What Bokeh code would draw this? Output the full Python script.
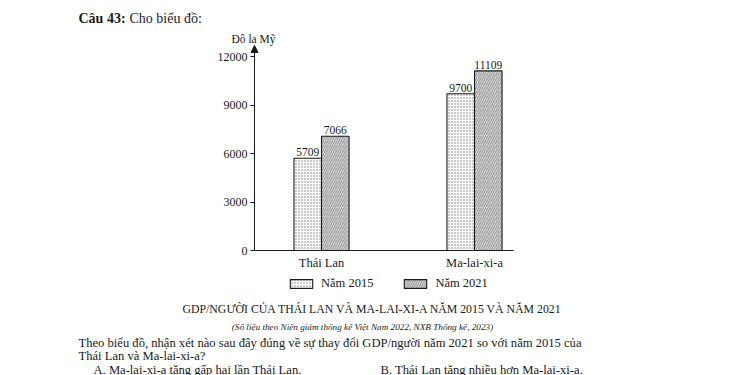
from bokeh.plotting import figure
from bokeh.models import (Range1d, ColumnDataSource, FixedTicker, Label, Legend, LegendItem,
                          Arrow, NormalHead)
from bokeh.core.properties import value
from bokeh.embed import file_html
from bokeh.resources import INLINE

# ---- data ----
countries = ["Thái Lan", "Ma-lai-xi-a"]
gdp_2015 = [5709, 9700]
gdp_2021 = [7066, 11109]
years = ["Năm 2015", "Năm 2021"]
y_ticks = [0, 3000, 6000, 9000, 12000]

SERIF = "Liberation Serif"
INK = "#1a1a1a"
W, H = 750, 375
AX_L, AX_R, Y0_PX = 254, 513, 250      # chart axes placement on the page (pixels)
PX_PER_CAT = 153.0
PX_PER_VAL = 194.0 / 12000
Y_TOP = 12680                          # top of the y axis arrow

xpos = [i + 1 for i in range(len(countries))]
bw = 0.18
src15 = ColumnDataSource(dict(x=[v - bw / 2 for v in xpos], top=gdp_2015, lab=[str(v) for v in gdp_2015]))
src21 = ColumnDataSource(dict(x=[v + bw / 2 for v in xpos], top=gdp_2021, lab=[str(v) for v in gdp_2021]))

x0 = 0.562                                   # where the y axis sits
x_end_axis = x0 + (AX_R - AX_L) / PX_PER_CAT
xr = Range1d(x0 - AX_L / PX_PER_CAT, x0 + (W - AX_L) / PX_PER_CAT)
yr = Range1d(-(H - Y0_PX) / PX_PER_VAL, Y0_PX / PX_PER_VAL)

p = figure(width=W, height=H, output_backend="svg", toolbar_location=None,
           x_range=xr, y_range=yr, min_border=0)
p.outline_line_color = None
p.grid.visible = False

r15 = p.vbar(x="x", top="top", width=bw, source=src15, fill_color="white",
             line_color=INK, line_width=1.1, hatch_pattern=".", hatch_color="#7a7a7a",
             hatch_scale=3, hatch_weight=1)
r21 = p.vbar(x="x", top="top", width=bw, source=src21, fill_color="#e2e2e2",
             line_color=INK, line_width=1.1, hatch_pattern="/", hatch_color="#555555",
             hatch_scale=4.5, hatch_weight=0.7)

for s in (src15, src21):
    p.text(x="x", y="top", text="lab", source=s, text_align="center", text_baseline="alphabetic",
           y_offset=-6, text_font=value(SERIF), text_font_size="11.5px", text_color=INK)

ya = p.yaxis[0]
ya.fixed_location = x0
ya.bounds = (0, Y_TOP)
ya.ticker = FixedTicker(ticks=y_ticks)
ya.major_tick_in = 0
ya.major_tick_out = 4
ya.minor_tick_line_color = None
ya.major_label_standoff = 3
ya.major_label_text_font = SERIF
ya.major_label_text_font_size = "12px"
ya.major_label_text_color = INK
ya.axis_line_color = INK
ya.major_tick_line_color = INK

xa = p.xaxis[0]
xa.fixed_location = 0
xa.bounds = (x0 - 0.015, x_end_axis)
xa.ticker = FixedTicker(ticks=xpos)
xa.major_label_overrides = {v: c for v, c in zip(xpos, countries)}
xa.major_tick_in = 0
xa.major_tick_out = 0
xa.minor_tick_line_color = None
xa.major_label_standoff = 5
xa.major_label_text_font = SERIF
xa.major_label_text_font_size = "12.5px"
xa.major_label_text_color = INK
xa.axis_line_color = INK

p.add_layout(Arrow(end=NormalHead(size=7, fill_color=INK, line_color=INK), line_color=INK,
                   x_start=x0, y_start=12000, x_end=x0, y_end=Y_TOP))

# legend (screen position measured from the bottom-left of the canvas)
legend = Legend(items=[LegendItem(label=years[0], renderers=[r15]),
                       LegendItem(label=years[1], renderers=[r21])],
                orientation="horizontal", location=(287, H - 291), padding=0, margin=0,
                spacing=28, label_standoff=6, glyph_width=28, glyph_height=11,
                border_line_color=None, background_fill_alpha=0,
                label_text_font=SERIF, label_text_font_size="12.5px", label_text_color=INK)
p.add_layout(legend, "center")


def lab(text, px, py, size, align="left", style="normal"):
    p.add_layout(Label(x=px, y=H - py, x_units="screen", y_units="screen", text=text,
                       text_font=SERIF, text_font_size=size, text_align=align,
                       text_baseline="alphabetic", text_font_style=style, text_color=INK))


lab("Câu 43:", 78, 18, "14px", style="bold")
lab("Cho biểu đồ:", 129, 18, "14px")
lab("Đô la Mỹ", 253, 38, "11.5px", align="center")
lab("GDP/NGƯỜI CỦA THÁI LAN VÀ MA-LAI-XI-A NĂM 2015 VÀ NĂM 2021", 372, 308, "11.8px", align="center")
lab("(Số liệu theo Niên giám thống kê Việt Nam 2022, NXB Thống kê, 2023)", 362, 326, "9.2px",
    align="center", style="italic")
lab("Theo biểu đồ, nhận xét nào sau đây đúng về sự thay đổi GDP/người năm 2021 so với năm 2015 của",
    78, 342, "12.6px")
lab("Thái Lan và Ma-lai-xi-a?", 78, 355.5, "12.6px")
lab("A. Ma-lai-xi-a tăng gấp hai lần Thái Lan.", 93, 369, "12.6px")
lab("B. Thái Lan tăng nhiều hơn Ma-lai-xi-a.", 380, 369, "12.6px")

open("out.html", "w").write(file_html(p, INLINE))
